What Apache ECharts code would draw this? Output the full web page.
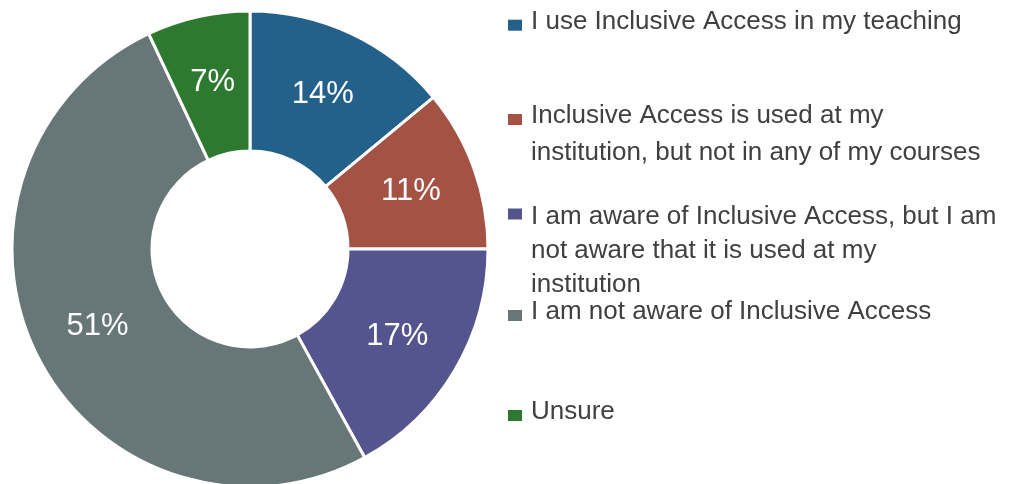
<!DOCTYPE html>
<html>
<head>
<meta charset="utf-8">
<script src="https://cdn.jsdelivr.net/npm/echarts@6/dist/echarts.min.js"></script>
<style>
html,body{margin:0;padding:0;background:#fff;}
#chart{width:1010px;height:484px;}
</style>
</head>
<body>
<div id="chart"></div>
<script>
// ---- data ----
const categories = [
  'I use Inclusive Access in my teaching',
  'Inclusive Access is used at my institution, but not in any of my courses',
  'I am aware of Inclusive Access, but I am not aware that it is used at my institution',
  'I am not aware of Inclusive Access',
  'Unsure'
];
const values = [14, 11, 17, 51, 7];
// legend text as wrapped in the reference
const legendLines = [
  ['I use Inclusive Access in my teaching'],
  ['Inclusive Access is used at my', 'institution, but not in any of my courses'],
  ['I am aware of Inclusive Access, but I am', 'not aware that it is used at my', 'institution'],
  ['I am not aware of Inclusive Access'],
  ['Unsure']
];

// ---- styles ----
const colors = ['#23608A', '#A45244', '#54548E', '#677676', '#2E7930'];
const legendIconCenters = [23.7, 119, 214, 314, 414];
const lineHeights = [36, 37, 34, 36, 36];
// spacer heights: negative => spacer below text (lifts text), positive => spacer above (lowers text)
const spacers = [-7, -7, 5, -7, -7];
const topFix = [6.5, 14, 0, 6.5, 6.5];

const chart = echarts.init(document.getElementById('chart'), null, {renderer: 'canvas'});

const legends = categories.map((name, i) => {
  const n = legendLines[i].length;
  const LH = lineHeights[i];
  const sp = spacers[i];
  const H = (2 * n - 1) * LH + Math.abs(sp);
  const parts = [];
  if (sp > 0) parts.push('{s| }');
  for (let k = 0; k < n - 1; k++) parts.push('{b| }');
  legendLines[i].forEach(l => parts.push('{a|' + l + '}'));
  if (sp < 0) parts.push('{s| }');
  const txt = parts.join('\n');
  return {
    data: [name],
    orient: 'vertical',
    left: 508,
    top: legendIconCenters[i] - H / 2 + topFix[i],
    padding: 0,
    itemWidth: 14,
    itemHeight: 11,
    itemGap: 0,
    icon: 'rect',
    itemStyle: {borderWidth: 0},
    selectedMode: false,
    formatter: () => txt,
    textStyle: {
      color: '#404040',
      rich: {
        a: {fontFamily: 'Liberation Sans', fontSize: 26, color: '#404040', lineHeight: LH, padding: [0, 0, 0, 4]},
        b: {fontSize: 10, lineHeight: LH},
        s: {fontSize: 5, lineHeight: Math.abs(sp)}
      }
    }
  };
});

chart.setOption({
  animation: false,
  color: colors,
  legend: legends,
  series: [{
    type: 'pie',
    center: [250, 249],
    radius: [98, 238],
    startAngle: 90,
    clockwise: true,
    avoidLabelOverlap: false,
    itemStyle: {borderColor: '#ffffff', borderWidth: 3},
    label: {
      show: true,
      position: 'inside',
      formatter: '{c}%',
      color: '#ffffff',
      fontFamily: 'Liberation Sans',
      fontSize: 31
    },
    labelLine: {show: false},
    emphasis: {disabled: true},
    data: categories.map((c, i) => ({name: c, value: values[i]}))
  }]
});
</script>
</body>
</html>
